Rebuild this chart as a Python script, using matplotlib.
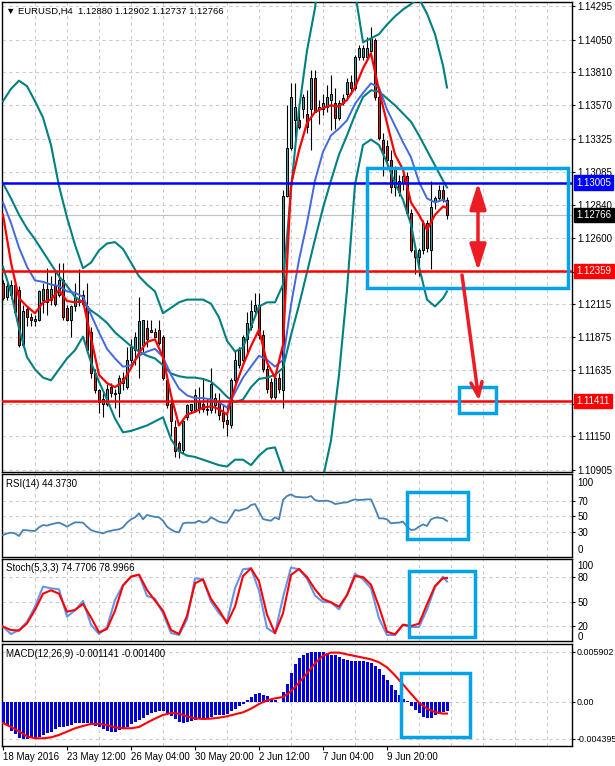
import numpy as np
import matplotlib.pyplot as plt
from matplotlib.patches import Rectangle

plt.rcParams['font.family'] = ['Liberation Sans', 'DejaVu Sans']

# ---- values ----
date_bars = [0, 16, 32, 48, 64, 80, 96]
date_labels = ['18 May 2016', '23 May 12:00', '26 May 04:00', '30 May 20:00',
               '2 Jun 12:00', '7 Jun 04:00', '9 Jun 20:00']

opens = [1.1227, 1.1217, 1.1218, 1.1226, 1.1222, 1.1182, 1.1208, 1.1202, 1.1199, 1.1200,
         1.1215, 1.1223, 1.1215, 1.1226, 1.1218, 1.1229, 1.1209, 1.1200, 1.1210, 1.1213,
         1.1212, 1.1210, 1.1191, 1.1161, 1.1149, 1.1139, 1.1139, 1.1151, 1.1147, 1.1147,
         1.1154, 1.1151, 1.1171, 1.1178, 1.1178, 1.1182, 1.1194, 1.1193, 1.1191, 1.1193,
         1.1188, 1.1156, 1.1139, 1.1122, 1.1110, 1.1105, 1.1129, 1.1134, 1.1134, 1.1140,
         1.1139, 1.1135, 1.1134, 1.1138, 1.1140, 1.1132, 1.1127, 1.1123, 1.1156, 1.1167,
         1.1171, 1.1186, 1.1195, 1.1207, 1.1211, 1.1189, 1.1164, 1.1155, 1.1144, 1.1158,
         1.1149, 1.1291, 1.1326, 1.1346, 1.1346, 1.1354, 1.1351, 1.1354, 1.1377, 1.1354,
         1.1354, 1.1356, 1.1361, 1.1359, 1.1348, 1.1359, 1.1365, 1.1374, 1.1370, 1.1392,
         1.1392, 1.1392, 1.1397, 1.1405, 1.1363, 1.1332, 1.1327, 1.1317, 1.1297, 1.1302,
         1.1300, 1.1305, 1.1278, 1.1251, 1.1246, 1.1251, 1.1271, 1.1251, 1.1286, 1.1289,
         1.1295, 1.12880]
highs = [1.1229, 1.1227, 1.1229, 1.1228, 1.1225, 1.1211, 1.1210, 1.1205, 1.1204, 1.1222,
         1.1227, 1.1238, 1.1232, 1.1235, 1.1242, 1.1242, 1.1211, 1.1211, 1.1227, 1.1237,
         1.1222, 1.1227, 1.1195, 1.1164, 1.1150, 1.1147, 1.1153, 1.1154, 1.1150, 1.1160,
         1.1162, 1.1180, 1.1186, 1.1191, 1.1217, 1.1200, 1.1200, 1.1200, 1.1194, 1.1200,
         1.1189, 1.1158, 1.1144, 1.1127, 1.1112, 1.1127, 1.1139, 1.1139, 1.1150, 1.1151,
         1.1158, 1.1142, 1.1165, 1.1147, 1.1147, 1.1138, 1.1138, 1.1158, 1.1178, 1.1180,
         1.1189, 1.1206, 1.1215, 1.1220, 1.1220, 1.1193, 1.1167, 1.1158, 1.1160, 1.1161,
         1.1295, 1.1357, 1.1373, 1.1373, 1.1354, 1.1365, 1.1368, 1.1383, 1.1383, 1.1361,
         1.1365, 1.1372, 1.1379, 1.1370, 1.1361, 1.1365, 1.1377, 1.1379, 1.1394, 1.1401,
         1.1401, 1.1407, 1.1414, 1.1406, 1.1365, 1.1337, 1.1332, 1.1324, 1.1313, 1.1306,
         1.1310, 1.1308, 1.1281, 1.1255, 1.1253, 1.1273, 1.1273, 1.1302, 1.1291, 1.1299,
         1.1299, 1.12902]
lows = [1.1215, 1.1215, 1.1216, 1.1204, 1.1180, 1.1180, 1.1196, 1.1196, 1.1196, 1.1199,
        1.1205, 1.1204, 1.1211, 1.1210, 1.1217, 1.1200, 1.1199, 1.1188, 1.1207, 1.1210,
        1.1210, 1.1176, 1.1158, 1.1147, 1.1132, 1.1129, 1.1137, 1.1144, 1.1136, 1.1129,
        1.1149, 1.1150, 1.1169, 1.1167, 1.1158, 1.1177, 1.1180, 1.1191, 1.1187, 1.1182,
        1.1156, 1.1136, 1.1115, 1.1100, 1.1099, 1.1103, 1.1127, 1.1133, 1.1133, 1.1132,
        1.1133, 1.1131, 1.1132, 1.1132, 1.1127, 1.1121, 1.1115, 1.1121, 1.1154, 1.1165,
        1.1169, 1.1176, 1.1193, 1.1204, 1.1186, 1.1162, 1.1147, 1.1142, 1.1142, 1.1147,
        1.1136, 1.1290, 1.1324, 1.1332, 1.1340, 1.1348, 1.1337, 1.1324, 1.1352, 1.1343,
        1.1350, 1.1352, 1.1339, 1.1340, 1.1346, 1.1357, 1.1361, 1.1365, 1.1368, 1.1390,
        1.1390, 1.1390, 1.1396, 1.1361, 1.1332, 1.1305, 1.1313, 1.1293, 1.1291, 1.1291,
        1.1295, 1.1277, 1.1250, 1.1234, 1.1232, 1.1248, 1.1250, 1.1237, 1.1281, 1.1288,
        1.1286, 1.12737]
closes = [1.1216, 1.1225, 1.1226, 1.1206, 1.1182, 1.1207, 1.1202, 1.1200, 1.1201, 1.1221,
          1.1223, 1.1213, 1.1223, 1.1212, 1.1229, 1.1202, 1.1200, 1.1210, 1.1217, 1.1215,
          1.1218, 1.1178, 1.1161, 1.1149, 1.1140, 1.1142, 1.1150, 1.1147, 1.1146, 1.1158,
          1.1158, 1.1171, 1.1180, 1.1188, 1.1199, 1.1200, 1.1186, 1.1191, 1.1188, 1.1183,
          1.1158, 1.1138, 1.1126, 1.1104, 1.1104, 1.1126, 1.1138, 1.1139, 1.1145, 1.1136,
          1.1135, 1.1134, 1.1153, 1.1143, 1.1131, 1.1126, 1.1124, 1.1156, 1.1171, 1.1178,
          1.1188, 1.1198, 1.1207, 1.1211, 1.1189, 1.1164, 1.1150, 1.1144, 1.1158, 1.1150,
          1.1291, 1.1326, 1.1363, 1.1356, 1.1341, 1.1363, 1.1341, 1.1377, 1.1352, 1.1356,
          1.1359, 1.1363, 1.1365, 1.1348, 1.1359, 1.1362, 1.1374, 1.1370, 1.1392, 1.1399,
          1.1399, 1.1399, 1.1406, 1.1363, 1.1333, 1.1322, 1.1317, 1.1297, 1.1311, 1.1294,
          1.1305, 1.1278, 1.1251, 1.1246, 1.1251, 1.1271, 1.1253, 1.1283, 1.1289, 1.1295,
          1.1288, 1.12766]

# indicator lines, read every second bar
line_bars = list(range(0, 112, 2)) + [111]
ma_fast = [1.1277, 1.1242, 1.1216, 1.1210, 1.1205, 1.1213, 1.1215, 1.1222, 1.1214, 1.1213,
           1.1214, 1.1187, 1.1160, 1.1154, 1.1151, 1.1155, 1.1165, 1.1176, 1.1184, 1.1186,
           1.1173, 1.1145, 1.1123, 1.1131, 1.1133, 1.1136, 1.1137, 1.1135, 1.1131, 1.1151,
           1.1167, 1.1181, 1.1193, 1.1169, 1.1158, 1.1182, 1.1299, 1.1324, 1.1344, 1.1352,
           1.1355, 1.1357, 1.1356, 1.1361, 1.1370, 1.1384, 1.1395, 1.1368, 1.1344, 1.1321,
           1.1310, 1.1286, 1.1277, 1.1266, 1.1277, 1.1283, 1.1282]
ma_slow = [1.1286, 1.1271, 1.1253, 1.1239, 1.1229, 1.1228, 1.1226, 1.1225, 1.1221, 1.1220,
           1.1217, 1.1204, 1.1191, 1.1179, 1.1172, 1.1166, 1.1167, 1.1174, 1.1177, 1.1179,
           1.1173, 1.1160, 1.1150, 1.1145, 1.1143, 1.1143, 1.1142, 1.1140, 1.1136, 1.1147,
           1.1158, 1.1166, 1.1174, 1.1171, 1.1166, 1.1171, 1.1211, 1.1244, 1.1271, 1.1302,
           1.1323, 1.1335, 1.1340, 1.1346, 1.1358, 1.1366, 1.1373, 1.1370, 1.1354, 1.1342,
           1.1330, 1.1319, 1.1301, 1.1289, 1.1286, 1.1288, 1.1286]
bb_upper = [1.1360, 1.1369, 1.1375, 1.1371, 1.1360, 1.1348, 1.1328, 1.1298, 1.1275, 1.1255,
            1.1238, 1.1242, 1.1251, 1.1256, 1.1257, 1.1252, 1.1242, 1.1232, 1.1226, 1.1221,
            1.1205, 1.1209, 1.1213, 1.1215, 1.1215, 1.1215, 1.1212, 1.1202, 1.1185, 1.1177,
            1.1180, 1.1195, 1.1210, 1.1213, 1.1213, 1.1226, 1.1295, 1.1354, 1.1397, 1.1428,
            1.1479, 1.1492, 1.1482, 1.1449, 1.1440, 1.1403, 1.1406, 1.1409, 1.1416, 1.1422,
            1.1427, 1.1431, 1.1435, 1.1424, 1.1409, 1.1386, 1.1370]
bb_mid = [1.1300, 1.1289, 1.1277, 1.1267, 1.1259, 1.1250, 1.1241, 1.1232, 1.1225, 1.1217,
          1.1213, 1.1207, 1.1203, 1.1198, 1.1191, 1.1186, 1.1181, 1.1177, 1.1174, 1.1172,
          1.1167, 1.1161, 1.1159, 1.1158, 1.1158, 1.1157, 1.1155, 1.1150, 1.1144, 1.1140,
          1.1142, 1.1151, 1.1157, 1.1158, 1.1160, 1.1165, 1.1189, 1.1211, 1.1235, 1.1259,
          1.1282, 1.1302, 1.1321, 1.1335, 1.1350, 1.1363, 1.1368, 1.1367, 1.1362, 1.1357,
          1.1351, 1.1345, 1.1335, 1.1324, 1.1313, 1.1302, 1.1297]
bb_lower = [1.1239, 1.1220, 1.1194, 1.1173, 1.1164, 1.1158, 1.1156, 1.1164, 1.1172, 1.1178,
            1.1188, 1.1169, 1.1155, 1.1142, 1.1128, 1.1118, 1.1119, 1.1121, 1.1123, 1.1126,
            1.1129, 1.1113, 1.1104, 1.1101, 1.1100, 1.1098, 1.1096, 1.1094, 1.1093, 1.1098,
            1.1098, 1.1094, 1.1101, 1.1106, 1.1107, 1.1090, 1.1076, 1.1065, 1.1065, 1.1072,
            1.1085, 1.1112, 1.1160, 1.1222, 1.1299, 1.1328, 1.1332, 1.1328, 1.1315, 1.1300,
            1.1288, 1.1270, 1.1239, 1.1215, 1.1210, 1.1216, 1.1221]

rsi = [26.5, 28.5, 29.5, 28.6, 25.3, 32.9, 32.5, 32.0, 31.6, 36.2,
       39.2, 38.4, 40.0, 41.3, 42.2, 40.0, 37.1, 40.0, 42.6, 42.5,
       42.2, 37.1, 32.9, 31.0, 29.9, 28.6, 30.8, 32.0, 33.0, 33.7,
       36.2, 42.2, 46.4, 48.9, 54.0, 46.4, 51.9, 50.6, 49.5, 48.9,
       44.7, 37.1, 33.5, 30.8, 29.9, 41.3, 42.2, 42.0, 42.2, 44.7,
       42.2, 43.4, 48.9, 46.4, 43.4, 42.2, 42.2, 49.7, 58.2, 57.3,
       59.0, 60.3, 64.5, 65.8, 56.1, 46.8, 45.5, 44.7, 48.9, 46.4,
       70.8, 75.9, 78.0, 75.1, 74.5, 74.2, 74.2, 75.9, 70.8, 69.6,
       69.8, 70.0, 68.7, 65.8, 66.5, 67.5, 67.9, 70.0, 71.7, 70.8,
       71.2, 71.7, 71.7, 60.3, 47.6, 47.6, 46.4, 41.3, 42.0, 42.2,
       43.4, 37.1, 32.9, 33.5, 37.1, 40.0, 37.9, 46.4, 48.5, 48.5,
       47.6, 44.37]

stoch_k = [19.1, 10.0, 15.0, 25.0, 43.8, 68.5, 66.4, 65.2, 31.4, 39.3,
           50.8, 21.6, 10.0, 18.3, 52.0, 70.5, 80.8, 83.3, 57.0, 53.7,
           35.6, 11.3, 8.8, 28.1, 78.8, 77.5, 50.0, 35.6, 25.3, 66.4,
           89.9, 91.1, 63.5, 17.4, 10.9, 55.3, 92.0, 89.9, 78.4, 57.4,
           49.5, 49.1, 40.5, 58.6, 84.5, 77.5, 66.4, 29.4, 8.8, 8.8,
           21.2, 18.7, 18.7, 40.1, 67.7, 80.8, 74.8]
stoch_d = [19.1, 15.0, 14.2, 23.2, 39.7, 59.8, 64.0, 59.8, 37.6, 39.7,
           47.1, 30.6, 12.1, 16.2, 38.8, 69.7, 80.8, 83.3, 64.4, 51.2,
           38.8, 15.0, 10.0, 32.3, 72.6, 77.5, 53.3, 39.7, 23.2, 43.8,
           81.6, 91.1, 75.1, 33.9, 10.9, 35.6, 82.9, 90.3, 80.4, 65.2,
           53.3, 49.1, 43.8, 57.8, 81.6, 80.4, 70.9, 43.8, 12.9, 9.6,
           21.6, 19.9, 22.8, 46.7, 69.3, 78.8, 79.0]

macd = [-0.00248, -0.00291, -0.00342, -0.00385, -0.00424, -0.00436, -0.00440, -0.00432, -0.00436, -0.00420,
        -0.00397, -0.00369, -0.00354, -0.00326, -0.00303, -0.00303, -0.00287, -0.00275, -0.00255, -0.00248,
        -0.00248, -0.00255, -0.00267, -0.00287, -0.00303, -0.00326, -0.00342, -0.00354, -0.00354, -0.00334,
        -0.00322, -0.00295, -0.00267, -0.00240, -0.00212, -0.00189, -0.00161, -0.00138, -0.00122, -0.00110,
        -0.00110, -0.00130, -0.00173, -0.00208, -0.00236, -0.00248, -0.00244, -0.00228, -0.00212, -0.00208,
        -0.00200, -0.00189, -0.00177, -0.00161, -0.00157, -0.00157, -0.00145, -0.00114, -0.00086, -0.00051,
        -0.00024, 0.00016, 0.00059, 0.00090, 0.00106, 0.00083, 0.00063, 0.00035, 0.00020, -0.00004,
        0.00110, 0.00208, 0.00342, 0.00444, 0.00511, 0.00550, 0.00578, 0.00590, 0.00590, 0.00590,
        0.00582, 0.00570, 0.00550, 0.00546, 0.00523, 0.00503, 0.00491, 0.00483, 0.00479, 0.00479,
        0.00479, 0.00472, 0.00456, 0.00421, 0.00381, 0.00314, 0.00255, 0.00200, 0.00134, 0.00075,
        0.00031, 0.00003, -0.00047, -0.00094, -0.00138, -0.00177, -0.00193, -0.00189, -0.00161, -0.00141,
        -0.00126, -0.001141]
macd_signal = [-0.00252, -0.00299, -0.00350, -0.00409, -0.00432, -0.00432, -0.00421, -0.00393, -0.00354, -0.00314,
               -0.00287, -0.00263, -0.00263, -0.00275, -0.00303, -0.00314, -0.00314, -0.00299, -0.00248, -0.00200,
               -0.00157, -0.00134, -0.00141, -0.00173, -0.00197, -0.00204, -0.00200, -0.00189, -0.00173, -0.00149,
               -0.00126, -0.00083, -0.00028, 0.00016, 0.00039, 0.00055, 0.00122, 0.00224, 0.00334, 0.00452,
               0.00542, 0.00578, 0.00578, 0.00558, 0.00538, 0.00519, 0.00499, 0.00464, 0.00405, 0.00310,
               0.00204, 0.00094, -0.00012, -0.00083, -0.00122, -0.00141, -0.00140]

price_ticks = [1.14295, 1.14050, 1.13810, 1.13570, 1.13325, 1.13085, 1.12840, 1.12600,
               1.12355, 1.12115, 1.11875, 1.11635, 1.11390, 1.11150, 1.10905]
level_top = 1.13005
level_mid = 1.12359
level_low = 1.11411
last_price = 1.12766

# ---- figure ----
W, H = 615, 766
fig = plt.figure(figsize=(W / 100, H / 100), dpi=100)


def panel(top, bottom):
    return fig.add_axes([2 / W, 1 - bottom / H, 570 / W, (bottom - top) / H])


ax = panel(2, 472)
ax_rsi = panel(474, 557)
ax_sto = panel(559, 641)
ax_macd = panel(644, 746)

grid_kw = dict(color='#cccccc', lw=0.8, ls=(0, (3, 3)))
for a in (ax, ax_rsi, ax_sto, ax_macd):
    a.set_xlim(-0.25, 142.25)
    a.set_xticks([])
    a.set_xticks(np.arange(8, 142, 8), minor=True)
    a.grid(True, which='minor', axis='x', **grid_kw)
    a.grid(True, which='major', axis='y', **grid_kw)
    a.tick_params(axis='x', which='both', length=0, labelbottom=False)
    a.yaxis.tick_right()
    a.tick_params(axis='y', length=2.5, width=0.8, labelsize=7, pad=1.5)
    a.set_axisbelow(True)
    for s in a.spines.values():
        s.set_linewidth(1.0)


def side_label(a, yfrac, text):
    a.annotate(text, xy=(1, yfrac), xycoords='axes fraction', xytext=(4, 0),
               textcoords='offset points', ha='left', va='center', fontsize=7,
               annotation_clip=False)


def price_tag(a, value, bg):
    a.annotate(f'{value:.5f}', xy=(1, value), xycoords=a.get_yaxis_transform(),
               xytext=(3.2, 0), textcoords='offset points', ha='left', va='center',
               fontsize=7, color='white', zorder=30, annotation_clip=False,
               bbox=dict(boxstyle='square,pad=0.22', fc=bg, ec=bg))


# main price window
x = np.arange(len(closes))
o, h, l, c = map(np.asarray, (opens, highs, lows, closes))
up = c >= o
ax.vlines(x, l, h, color='black', lw=0.8, zorder=3)
ax.bar(x, np.maximum(np.abs(c - o), 0.00003), bottom=np.minimum(o, c), width=0.72,
       color=np.where(up, '#3f9e9a', '#dd1c1c'), edgecolor='black', linewidth=0.7, zorder=4)

ax.axhline(last_price, color='#c0c0c0', lw=0.8, zorder=2)
teal = '#008080'
for band in (bb_upper, bb_mid, bb_lower):
    ax.plot(line_bars, band, color=teal, lw=1.5, zorder=5)
ax.plot(line_bars, ma_slow, color='#4169e1', lw=1.4, zorder=6)
ax.plot(line_bars, ma_fast, color='#ff0000', lw=1.6, zorder=7)

ax.axhline(level_top, color='#0000ff', lw=1.8, zorder=8)
ax.axhline(level_mid, color='#ff0000', lw=1.8, zorder=8)
ax.axhline(level_low, color='#ff0000', lw=1.8, zorder=8)

ax.set_ylim(1.10890, 1.14325)
ax.set_yticks(price_ticks)
# the two ticks sitting under the level tags stay as grid lines only
hidden = (1.12355, 1.11390)
ax.set_yticklabels(['' if v in hidden else f'{v:.5f}' for v in price_ticks])
price_tag(ax, level_top, '#0000ff')
price_tag(ax, last_price, '#000000')
price_tag(ax, level_mid, '#ff0000')
price_tag(ax, level_low, '#ff0000')
ax.text(0.007, 0.981, '\u25bc EURUSD,H4  1.12880 1.12902 1.12737 1.12766',
        transform=ax.transAxes, fontsize=6.8, va='center', ha='left')

# hand-drawn marks
paint_blue = '#00a2e8'
paint_red = '#ed1c24'
ax.add_patch(Rectangle((90.9, 1.12235), 50.35, 1.13112 - 1.12235, fill=False,
                       ec=paint_blue, lw=2.5, zorder=15))
ax.add_patch(Rectangle((114.0, 1.11321), 9.25, 0.0019, fill=False,
                       ec=paint_blue, lw=2.5, zorder=15))
ax.annotate('', xy=(118.75, level_top), xytext=(118.75, level_mid),
            arrowprops=dict(arrowstyle='<|-|>,head_length=1.6,head_width=0.5',
                            color=paint_red, lw=2.5, shrinkA=0, shrinkB=0), zorder=16)
ax.annotate('', xy=(119.0, level_low), xytext=(114.75, 1.1233),
            arrowprops=dict(arrowstyle='->,head_length=1.0,head_width=0.4',
                            color=paint_red, lw=2.5, shrinkA=0, shrinkB=0), zorder=16)

# RSI
ax_rsi.plot(x, rsi, color='#4682b4', lw=1.3, zorder=3)
ax_rsi.set_ylim(-1.3, 103.8)
ax_rsi.set_yticks([30, 50, 70])
side_label(ax_rsi, 0.89, '100')
side_label(ax_rsi, 0.084, '0')
ax_rsi.text(0.007, 0.88, 'RSI(14) 44.3730', transform=ax_rsi.transAxes,
            fontsize=7, va='center', ha='left')
ax_rsi.add_patch(Rectangle((101, 21.5), 15.25, 59.5, fill=False, ec=paint_blue, lw=2.5, zorder=15))

# Stochastic
ax_sto.plot(line_bars, stoch_k, color='#6495ed', lw=1.5, zorder=3)
ax_sto.plot(line_bars, stoch_d, color='#ff0000', lw=1.5, zorder=4)
ax_sto.set_ylim(1.4, 102.6)
ax_sto.set_yticks([20, 50, 80])
side_label(ax_sto, 0.915, '100')
side_label(ax_sto, 0.045, '0')
ax_sto.text(0.007, 0.89, 'Stoch(5,3,3) 74.7706 78.9966', transform=ax_sto.transAxes,
            fontsize=7, va='center', ha='left')
ax_sto.add_patch(Rectangle((101.5, 6.0), 16.5, 81.8, fill=False, ec=paint_blue, lw=2.5, zorder=15))

# MACD
ax_macd.bar(x, macd, width=0.75, color='#0000dd', zorder=3)
ax_macd.plot(line_bars, macd_signal, color='#ff0000', lw=1.5, zorder=4)
ax_macd.set_ylim(-0.00523, 0.0068)
ax_macd.set_yticks([-0.004395, 0.0, 0.005902])
ax_macd.set_yticklabels(['-0.004395', '0.00', '0.005902'])
ax_macd.tick_params(axis='y', labelsize=6.4, pad=1)
ax_macd.text(0.007, 0.90, 'MACD(12,26,9) -0.001141 -0.001400', transform=ax_macd.transAxes,
             fontsize=7, va='center', ha='left')
ax_macd.add_patch(Rectangle((99.5, -0.00417), 17.25, 0.00755, fill=False, ec=paint_blue,
                            lw=2.5, zorder=15))
ax_macd.set_xticks(date_bars)
ax_macd.set_xticklabels(date_labels, ha='left')
ax_macd.tick_params(axis='x', which='major', length=3, width=0.8, labelbottom=True,
                    pad=1.5, labelsize=7)

fig.savefig('out.png', dpi=100)
